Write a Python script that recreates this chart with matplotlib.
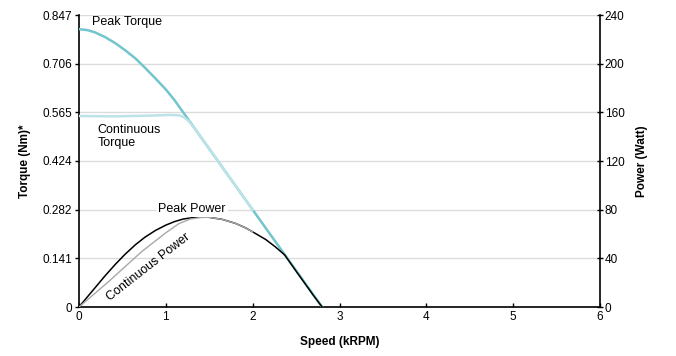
import matplotlib
matplotlib.use("Agg")
import matplotlib.pyplot as plt

# ---- data ----
speed_pk_torque = [0, 0.1, 0.18, 0.3, 0.42, 0.53, 0.65, 0.76, 0.88, 1.0, 1.1, 2.0, 2.4, 2.8]
peak_torque = [0.806, 0.803, 0.797, 0.783, 0.765, 0.745, 0.721, 0.694, 0.663, 0.631, 0.600,
               0.282, 0.141, 0.0]

speed_cont_torque = [0, 0.4, 0.8, 1.05, 1.15, 1.2, 1.26, 1.35, 2.0]
cont_torque = [0.554, 0.553, 0.555, 0.557, 0.556, 0.552, 0.54, 0.512, 0.282]

speed_pk_power = [0, 0.1, 0.18, 0.3, 0.42, 0.53, 0.65, 0.76, 0.88, 1.0, 1.1, 1.2, 1.34, 1.49,
                  1.65, 1.8, 1.92, 2.03, 2.15, 2.26, 2.37, 2.48, 2.6, 2.7, 2.8]
peak_power = [0, 8.6, 15.4, 25.6, 35.2, 43.3, 51.2, 57.4, 62.9, 67.3, 70.2, 72.3, 73.8, 73.8,
              72, 68.8, 65, 60.5, 55.5, 49.5, 42.7, 31.5, 19.5, 9.5, 0]

speed_cont_power = [0, 0.34, 0.72, 1.0, 1.15, 1.28, 1.4, 1.49, 1.65, 1.8, 1.92, 2.0]
cont_power = [0, 20.8, 45.4, 61, 68.5, 72.3, 73.5, 73.8, 72, 68.8, 65, 61.6]

torque_ticks = [0, 0.141, 0.282, 0.424, 0.565, 0.706, 0.847]
torque_labels = ["0", "0.141", "0.282", "0.424", "0.565", "0.706", "0.847"]
power_ticks = [0, 40, 80, 120, 160, 200, 240]
speed_ticks = [0, 1, 2, 3, 4, 5, 6]

plt.rcParams['font.family'] = ['Liberation Sans', 'DejaVu Sans']

fig = plt.figure(figsize=(6.76, 3.56), dpi=100)
ax = fig.add_axes([79/676, 1-307/356, (600-79)/676, (307-15)/356])
ax2 = ax.twinx()

c_peak = "#72c5cc"
c_cont = "#bde3e7"

ax.set_xlim(0, 6)
ax.set_ylim(0, 0.847)
ax2.set_ylim(0, 240)

ax.set_yticks(torque_ticks)
ax.set_yticklabels(torque_labels)
ax.set_xticks(speed_ticks)
ax2.set_yticks(power_ticks)

ax.grid(axis='y', color='#dcdcdc', linewidth=1.0)
ax.set_axisbelow(True)

ax.plot(speed_pk_torque, peak_torque, color=c_peak, lw=1.8, zorder=3,
        solid_joinstyle='round')
ax2.plot(speed_pk_power, peak_power, color='black', lw=1.1, zorder=3,
         solid_joinstyle='round')
ax.plot(speed_cont_torque, cont_torque, color=c_cont, lw=1.8, zorder=4,
        solid_joinstyle='round')
ax2.plot(speed_cont_power, cont_power, color='#a8a8a8', lw=1.0, zorder=4,
         solid_joinstyle='round')

for a in (ax, ax2):
    a.spines['top'].set_visible(False)
    for s in ('left', 'right', 'bottom'):
        a.spines[s].set_linewidth(1.2)
ax.spines['right'].set_visible(False)
ax2.spines['left'].set_visible(False)
ax2.spines['bottom'].set_visible(False)

ax.tick_params(axis='y', direction='out', length=3, width=1, labelsize=8.5, pad=2)
ax.tick_params(axis='x', direction='in', length=3, width=1, labelsize=8.5, pad=3)
ax2.tick_params(axis='y', direction='inout', length=5, width=1, labelsize=8.5, pad=1)

ax.set_xlabel("Speed (kRPM)", fontsize=8.5, fontweight='bold', labelpad=9)
ax.set_ylabel("Torque (Nm)*", fontsize=8.5, fontweight='bold', labelpad=8)
ax2.set_ylabel("Power (Watt)", fontsize=8.5, fontweight='bold', labelpad=8)

ax.text(0.15, 0.827, "Peak Torque", fontsize=9, va='center', ha='left', zorder=6)
ax.text(0.21, 0.495, "Continuous\nTorque", fontsize=9, va='center', ha='left', zorder=6,
        linespacing=1.15)
ax2.text(1.3, 80.5, "Peak Power", fontsize=9, va='center', ha='center', zorder=6,
         bbox=dict(facecolor='white', edgecolor='none', pad=1.5))
ax2.text(0.8, 33, "Continuous Power", fontsize=9, va='center', ha='center',
         rotation=38, rotation_mode='anchor', zorder=6)

fig.savefig("out.png", dpi=100)
